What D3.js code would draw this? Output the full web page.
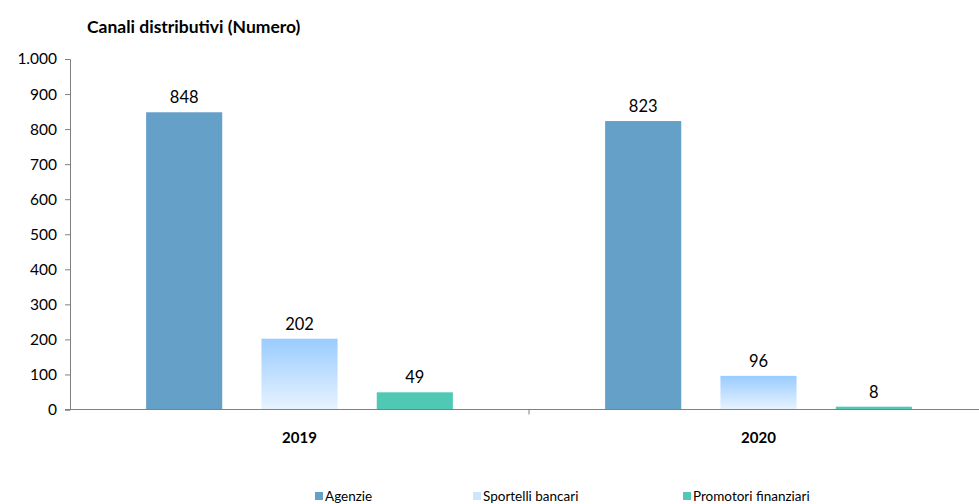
<!DOCTYPE html>
<html>
<head>
<meta charset="utf-8">
<script src="https://cdn.jsdelivr.net/npm/d3@7"></script>
<style>
  body { margin: 0; background: #fff; }
  text { font-family: "Lato", "DejaVu Sans", sans-serif; fill: #000; }
</style>
</head>
<body>
<div id="chart"></div>
<script>
const years = ["2019", "2020"];
const series = ["Agenzie", "Sportelli bancari", "Promotori finanziari"];
const agenzie = [848, 823];
const sportelli = [202, 96];
const promotori = [49, 8];
const yTicks = [0, 100, 200, 300, 400, 500, 600, 700, 800, 900, 1000];

const width = 979, height = 504;
const margin = { top: 59, right: -9, bottom: 95, left: 70 };

const svg = d3.select("#chart").append("svg")
  .attr("width", width).attr("height", height);

const defs = svg.append("defs");
const grad = defs.append("linearGradient")
  .attr("id", "sportGrad").attr("x1", 0).attr("y1", 0).attr("x2", 0).attr("y2", 1);
grad.append("stop").attr("offset", "0%").attr("stop-color", "#99ccff");
grad.append("stop").attr("offset", "100%").attr("stop-color", "#e8f3ff");

const colors = ["#65a0c8", "url(#sportGrad)", "#4fc8b4"];
const legendColors = ["#65a0c8", "#cfe5ff", "#4fc8b4"];
const values = [agenzie, sportelli, promotori];

const y = d3.scaleLinear().domain([0, 1000])
  .range([height - margin.bottom + 0.5, margin.top]);

const x0 = d3.scaleBand().domain(years)
  .range([margin.left, width - margin.right]).padding(0);

const x1 = d3.scaleBand().domain(series)
  .range([0, x0.bandwidth()]).paddingInner(0.34).paddingOuter(0.66);

// title
svg.append("text")
  .attr("x", 87).attr("y", 33)
  .attr("font-weight", "bold").attr("font-size", 17.5)
  .text("Canali distributivi (Numero)");

// bars
years.forEach((yr, i) => {
  series.forEach((s, j) => {
    const v = values[j][i];
    svg.append("rect")
      .attr("x", x0(yr) + x1(s))
      .attr("y", y(v))
      .attr("width", x1.bandwidth())
      .attr("height", y(0) - y(v))
      .attr("fill", colors[j]);
    svg.append("text")
      .attr("x", x0(yr) + x1(s) + x1.bandwidth() / 2)
      .attr("y", y(v) - 9)
      .attr("text-anchor", "middle")
      .attr("font-size", 16.5)
      .text(v);
  });
});

// y axis
const yAxis = d3.axisLeft(y).tickValues(yTicks).tickSize(5).tickPadding(8)
  .tickFormat(d => d3.format(",")(d).replace(",", "."));
const gy = svg.append("g").attr("transform", `translate(${margin.left},0)`).call(yAxis);
gy.select(".domain").attr("stroke", "#808080");
gy.selectAll(".tick line").attr("stroke", "#808080");
gy.selectAll(".tick text").attr("font-size", 15.5).attr("fill", "#000")
  .style("font-family", '"Lato", "DejaVu Sans", sans-serif');

// x axis
const gx = svg.append("g").attr("transform", `translate(0,${y(0)})`);
gx.append("line").attr("x1", margin.left - 5).attr("x2", width)
  .attr("stroke", "#808080");
gx.append("line").attr("x1", x0("2020")).attr("x2", x0("2020"))
  .attr("y1", 0).attr("y2", 5).attr("stroke", "#808080");
years.forEach(yr => {
  gx.append("text")
    .attr("x", x0(yr) + x0.bandwidth() / 2)
    .attr("y", 33)
    .attr("text-anchor", "middle")
    .attr("font-weight", "bold").attr("font-size", 15)
    .text(yr);
});

// legend
const legendX = [315, 473, 683];
series.forEach((s, j) => {
  const g = svg.append("g").attr("transform", `translate(${legendX[j]},492)`);
  g.append("rect").attr("x", 0).attr("y", 0).attr("width", 8).attr("height", 8)
    .attr("fill", legendColors[j]);
  g.append("text").attr("x", 10).attr("y", 9).attr("font-size", 13.5).text(s);
});
</script>
</body>
</html>
